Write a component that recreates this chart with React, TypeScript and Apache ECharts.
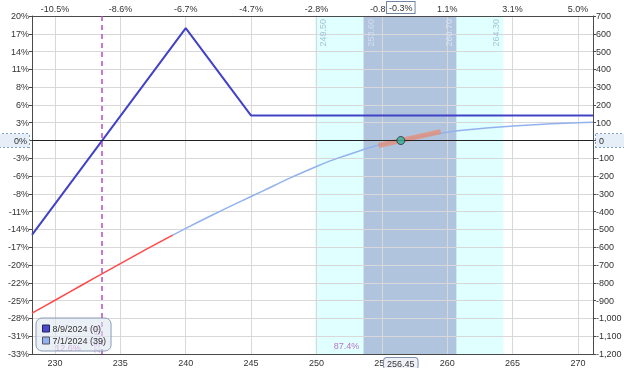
import React, { useEffect, useRef } from 'react';
import * as echarts from 'echarts';

// ---- data ----
const xMin = 228.24;
const xMax = 271.15;
const xTicks = [230, 235, 240, 245, 250, 255, 260, 265, 270];
const topPctLabels = ['-10.5%', '-8.6%', '-6.7%', '-4.7%', '-2.8%', '-0.8%', '1.1%', '3.1%', '5.0%'];
const currentPrice = 256.45;
const currentPriceLabel = '256.45';
const currentPctLabel = '-0.3%';
const yMin = -1200;
const yMax = 700;
const yStep = 100;
const leftPctLabels = ['20%', '17%', '14%', '11%', '8%', '6%', '3%', '0%', '-3%', '-6%', '-8%', '-11%', '-14%', '-17%', '-20%', '-22%', '-25%', '-28%', '-31%', '-33%'];

const expiryName = '8/9/2024 (0)';
const expiryPrices = [228.24, 240, 245, 271.15];
const expiryValues = [-530, 632, 140, 140];

const t0Name = '7/1/2024 (39)';
const t0Prices = [228.24, 230, 232, 234, 236, 238, 239, 240, 242, 244, 246, 248, 250, 251, 252, 253.6, 255, 256.45, 258, 260, 262, 264, 266, 268, 270, 271.15];
const t0Values = [-970, -898, -815, -733, -651, -571, -532, -494, -420, -349, -280, -210, -146, -116, -90, -50, -21, 0, 24, 47, 63, 76, 86, 94, 100, 103];
const t0RedBelow = 239;

const deltaPrices = [254.75, 259.5];
const deltaValues = [-28, 50];

const outerBand = [249.9, 264.3];
const outerBandLabels = ['249.50', '264.30'];
const innerBand = [253.6, 260.7];
const innerBandLabels = ['253.60', '260.70'];

const probLinePrice = 233.6;
const probLineLabel = '233.60';
const probTextPrices = [231, 252.3];
const probTextValues = [-1168, -1155];
const probTexts = ['12.6%', '87.4%'];

const FONT = 'Liberation Sans, Arial, sans-serif';

export default function App() {
  const ref = useRef<HTMLDivElement>(null);
  useEffect(() => {
    if (!ref.current) return;
    const chart = echarts.init(ref.current, undefined, { renderer: 'svg' });

    const t0Pts = t0Prices.map((p, i) => [p, t0Values[i]]);
    const redPts = t0Pts.filter((p) => p[0] <= t0RedBelow);
    const bluePts = t0Pts.filter((p) => p[0] >= t0RedBelow);

    const xLabelFmt = (labels: string[], cur: string) => (v: number) => {
      if (Math.abs(v - currentPrice) < 1e-6) return '{box|' + cur + '}';
      const i = xTicks.indexOf(Math.round(v));
      return i >= 0 ? labels[i] : '';
    };

    const axisLineStyle = { color: '#4a4a4a', width: 1 };
    const labelBase = { fontSize: 9, color: '#333', fontFamily: FONT };
    const hidden = { color: 'rgba(0,0,0,0)', width: 1, type: 'solid' };

    const option: any = {
      animation: false,
      textStyle: { fontFamily: FONT },
      grid: { left: 32, right: 31, top: 16, bottom: 14, containLabel: false, outerBoundsMode: 'none' },
      legend: {
        orient: 'vertical',
        left: 36,
        top: 318,
        padding: [6, 5, 6, 6],
        itemGap: 3,
        itemWidth: 7,
        itemHeight: 7,
        icon: 'rect',
        z: 10,
        backgroundColor: 'rgba(222,229,240,0.6)',
        borderColor: '#8c9cb4',
        borderWidth: 1,
        borderRadius: 6,
        textStyle: { fontSize: 9, color: '#333', fontFamily: FONT, padding: [0, 0, 0, -2] },
        data: [
          { name: expiryName, itemStyle: { color: '#4a4ac4', borderColor: '#22226a', borderWidth: 1 } },
          { name: t0Name, itemStyle: { color: '#92b2ee', borderColor: '#556', borderWidth: 1 } },
        ],
      },
      xAxis: [
        {
          type: 'value',
          min: xMin,
          max: xMax,
          position: 'bottom',
          z: 2,
          axisLine: { show: true, onZero: false, lineStyle: axisLineStyle },
          axisTick: { show: false, customValues: xTicks },
          splitLine: { show: true, lineStyle: { color: '#d8d8d8', width: 1 } },
          axisLabel: {
            ...labelBase,
            margin: 4,
            customValues: [...xTicks, currentPrice],
            formatter: xLabelFmt(xTicks.map(String), currentPriceLabel),
            rich: {
              box: {
                fontSize: 9,
                color: '#333',
                fontFamily: FONT,
                backgroundColor: '#eef2f8',
                borderColor: '#7f93ab',
                borderWidth: 1,
                borderRadius: 3,
                padding: [1, 3, 1, 3],
              },
            },
          },
        },
        {
          type: 'value',
          min: xMin,
          max: xMax,
          position: 'top',
          z: 2,
          axisLine: { show: true, onZero: false, lineStyle: axisLineStyle },
          axisTick: { show: false },
          splitLine: { show: false },
          axisLabel: {
            ...labelBase,
            margin: 3,
            customValues: [...xTicks, currentPrice],
            formatter: xLabelFmt(topPctLabels, currentPctLabel),
            rich: {
              box: {
                fontSize: 9,
                color: '#333',
                fontFamily: FONT,
                backgroundColor: '#ffffff',
                borderColor: '#6f86a0',
                borderWidth: 1,
                padding: [1, 2, 1, 2],
              },
            },
          },
        },
      ],
      yAxis: [
        {
          type: 'value',
          min: yMin,
          max: yMax,
          interval: yStep,
          position: 'left',
          z: 2,
          axisLine: { show: true, onZero: false, lineStyle: axisLineStyle },
          axisTick: { show: true, length: 3, lineStyle: axisLineStyle },
          splitLine: { show: true, lineStyle: { color: '#d8d8d8', width: 1 } },
          axisLabel: {
            ...labelBase,
            margin: 3,
            formatter: (v: number) => {
              const i = Math.round((yMax - v) / yStep);
              const t = leftPctLabels[i] ?? '';
              return v === 0 ? '{zero|' + t + '}' : t;
            },
            rich: {
              zero: {
                fontSize: 9,
                color: '#333',
                fontFamily: FONT,
                backgroundColor: '#e6eef8',
                borderColor: '#7fa0c8',
                borderWidth: 1,
                borderType: 'dotted',
                padding: [2, 2, 2, 16],
              },
            },
          },
        },
        {
          type: 'value',
          min: yMin,
          max: yMax,
          interval: yStep,
          position: 'right',
          z: 2,
          axisLine: { show: true, onZero: false, lineStyle: axisLineStyle },
          axisTick: { show: true, length: 3, lineStyle: axisLineStyle },
          splitLine: { show: false },
          axisLabel: {
            ...labelBase,
            margin: 3,
            formatter: (v: number) => {
              const t = v.toLocaleString('en-US');
              return v === 0 ? '{zero|' + t + '}' : t;
            },
            rich: {
              zero: {
                fontSize: 9,
                color: '#333',
                fontFamily: FONT,
                backgroundColor: '#e6eef8',
                borderColor: '#7fa0c8',
                borderWidth: 1,
                borderType: 'dotted',
                padding: [2, 24, 2, 3],
              },
            },
          },
        },
      ],
      series: [
        {
          name: 'bands',
          type: 'line',
          data: [],
          z: 1,
          silent: true,
          markArea: {
            silent: true,
            data: [
              [{ xAxis: outerBand[0], itemStyle: { color: '#e0ffff' } }, { xAxis: outerBand[1] }],
              [{ xAxis: innerBand[0], itemStyle: { color: '#b0c4de' } }, { xAxis: innerBand[1] }],
            ],
          },
        },
        {
          name: 'bandLabels',
          type: 'line',
          data: [],
          z: 3,
          silent: true,
          markLine: {
            silent: true,
            symbol: 'none',
            lineStyle: hidden,
            label: { show: true, fontSize: 9, fontFamily: FONT, distance: 3 },
            data: [
              { xAxis: outerBand[0], lineStyle: hidden, label: { formatter: outerBandLabels[0], position: 'insideEndBottom', color: '#a4c4d4' } },
              { xAxis: innerBand[0], lineStyle: hidden, label: { formatter: innerBandLabels[0], position: 'insideEndBottom', color: '#d4deee' } },
              { xAxis: innerBand[1], lineStyle: hidden, label: { formatter: innerBandLabels[1], position: 'insideEndTop', color: '#d8e2f2' } },
              { xAxis: outerBand[1], lineStyle: hidden, label: { formatter: outerBandLabels[1], position: 'insideEndTop', color: '#a4c4d4' } },
            ],
          },
        },
        {
          name: expiryName,
          type: 'line',
          data: expiryPrices.map((p, i) => [p, expiryValues[i]]),
          showSymbol: false,
          z: 3,
          lineStyle: { color: '#4242c6', width: 2 },
          itemStyle: { color: '#4242c6' },
          markLine: {
            silent: true,
            symbol: 'none',
            data: [
              { yAxis: 0, lineStyle: { color: '#222', width: 1, type: 'solid' }, label: { show: false } },
              {
                xAxis: probLinePrice,
                lineStyle: { color: '#b84cc4', width: 1.5, type: [5, 4] },
                label: { show: true, formatter: probLineLabel, position: 'insideStartTop', color: '#cfa0dc', fontSize: 9, fontFamily: FONT, distance: 1 },
              },
            ],
          },
        },
        {
          name: t0Name,
          type: 'line',
          data: bluePts,
          smooth: 0.3,
          showSymbol: false,
          z: 3,
          lineStyle: { color: '#92b2ee', width: 1.5 },
          itemStyle: { color: '#92b2ee' },
        },
        {
          name: 't0-loss',
          type: 'line',
          data: redPts,
          smooth: 0.3,
          showSymbol: false,
          z: 3,
          lineStyle: { color: '#ff4848', width: 1.5 },
        },
        {
          name: 'delta',
          type: 'line',
          data: deltaPrices.map((p, i) => [p, deltaValues[i]]),
          showSymbol: false,
          z: 4,
          lineStyle: { color: 'rgba(238,136,104,0.7)', width: 5, cap: 'butt' },
        },
        {
          name: 'current',
          type: 'scatter',
          data: [[currentPrice, 0]],
          symbolSize: 8,
          z: 5,
          itemStyle: { color: '#2fb5a5', borderColor: '#2a2a2a', borderWidth: 1 },
        },
        {
          name: 'prob',
          type: 'scatter',
          data: probTextPrices.map((p, i) => [p, probTextValues[i], probTexts[i]]),
          symbolSize: 0,
          z: 3,
          silent: true,
          label: {
            show: true,
            position: 'inside',
            formatter: (pr: any) => pr.value[2],
            color: '#b050b8',
            fontSize: 9,
            fontFamily: FONT,
          },
        },
      ],
    };

    chart.setOption(option);
    return () => chart.dispose();
  }, []);

  return <div ref={ref} style={{ position: 'fixed', left: 0, top: 0, width: 624, height: 368 }} />;
}
